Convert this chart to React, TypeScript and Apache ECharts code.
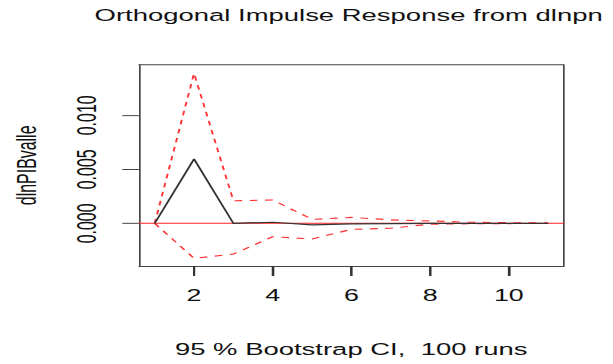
import React, { useEffect, useRef } from "react";
import * as echarts from "echarts";

const steps = [1, 2, 3, 4, 5, 6, 7, 8, 9, 10, 11];
const irf = [0, 0.00595, 0.0, 0.0001, -0.00015, -0.00005, -0.00002, 0.0, 0.0, 0.0, 0.0];
const upper = [0, 0.01389, 0.00209, 0.00216, 0.00037, 0.00055, 0.00032, 0.00022, 0.0001, 0.00006, 0.00004];
const lower = [0, -0.00324, -0.00284, -0.00124, -0.00145, -0.00056, -0.00045, -0.00008, -0.00004, -0.00002, -0.00001];
const xTicks = [2, 4, 6, 8, 10];
const yTicks = [0, 0.005, 0.01];

const titleText = "Orthogonal Impulse Response from dlnpn";
const subText = "95 % Bootstrap CI,  100 runs";
const yName = "dlnPIBvalle";

const FONT = "Liberation Sans, Arial, Helvetica, sans-serif";
const BOX = "#444";
const X_MIN = 0.6;
const X_MAX = 11.4;
const Y_MIN = -0.00395;
const Y_MAX = 0.01466;

export default function App() {
  const ref = useRef<HTMLDivElement>(null);
  useEffect(() => {
    if (!ref.current) return;
    const chart = echarts.init(ref.current, null, { renderer: "svg", width: 480, height: 480 });
    const pts = (arr: number[]) => steps.map((s, i) => [s, arr[i]]);
    const frameLine = { show: true, onZero: false, lineStyle: { color: BOX, width: 1.3 } };
    chart.setOption({
      animation: false,
      backgroundColor: "#fff",
      grid: {
        left: 108.8,
        right: 38.4,
        top: 85.7,
        bottom: 129.2,
        show: false,
      },
      xAxis: [
        {
          type: "value",
          min: X_MIN,
          max: X_MAX,
          position: "bottom",
          axisLine: frameLine,
          splitLine: { show: false },
          axisTick: {
            show: true,
            customValues: xTicks,
            length: 13,
            lineStyle: { color: "#333", width: 1.6 },
          },
          axisLabel: {
            customValues: xTicks,
            margin: 28,
            fontSize: 21,
            fontFamily: FONT,
            color: "#111",
          },
        },
        {
          type: "value",
          min: X_MIN,
          max: X_MAX,
          position: "top",
          axisLine: frameLine,
          splitLine: { show: false },
          axisTick: { show: false },
          axisLabel: { show: false },
        },
      ],
      yAxis: [
        {
          type: "value",
          min: Y_MIN,
          max: Y_MAX,
          position: "left",
          axisLine: frameLine,
          splitLine: { show: false },
          axisTick: {
            show: true,
            customValues: yTicks,
            length: 13,
            lineStyle: { color: BOX, width: 1.3 },
          },
          axisLabel: {
            customValues: yTicks,
            rotate: 90,
            margin: 30,
            fontSize: 21,
            fontFamily: FONT,
            color: "#111",
            formatter: (v: number) => v.toFixed(3),
          },
        },
        {
          type: "value",
          min: Y_MIN,
          max: Y_MAX,
          position: "right",
          axisLine: frameLine,
          splitLine: { show: false },
          axisTick: { show: false },
          axisLabel: { show: false },
        },
      ],
      series: [
        {
          type: "line",
          data: pts(upper),
          symbol: "none",
          lineStyle: { color: "#ff3333", width: 1.5, type: [6, 6] },
          z: 3,
        },
        {
          type: "line",
          data: pts(lower),
          symbol: "none",
          lineStyle: { color: "#ff3333", width: 1.5, type: [6, 6] },
          z: 3,
        },
        {
          type: "line",
          data: pts(irf),
          symbol: "none",
          lineStyle: { color: "#333", width: 1.6 },
          z: 4,
          markLine: {
            silent: true,
            symbol: "none",
            label: { show: false },
            lineStyle: { color: "#ff2020", width: 1.2, type: "solid" },
            data: [{ yAxis: 0 }],
            z: 2,
          },
        },
      ],
    });

    const tickEls = xTicks.map((v) => {
      const p = chart.convertToPixel({ gridIndex: 0 }, [v, Y_MIN]) as number[];
      return {
        type: "line",
        z: 100,
        shape: { x1: p[0], y1: p[1], x2: p[0], y2: p[1] + 13 },
        style: { stroke: "#333", lineWidth: 1.6 },
      };
    });

    chart.setOption({
      graphic: [
        {
          type: "text",
          x: 273,
          y: 21,
          style: {
            text: titleText,
            fontSize: 21.5,
            fontFamily: FONT,
            fill: "#111",
            textAlign: "center",
            textVerticalAlign: "middle",
          },
        },
        {
          type: "text",
          x: 275,
          y: 461.6,
          style: {
            text: subText,
            fontSize: 21.5,
            fontFamily: FONT,
            fill: "#111",
            textAlign: "center",
            textVerticalAlign: "middle",
          },
        },
        {
          type: "text",
          x: 21,
          y: 218,
          rotation: Math.PI / 2,
          style: {
            text: yName,
            fontSize: 21,
            fontFamily: FONT,
            fill: "#111",
            textAlign: "center",
            textVerticalAlign: "middle",
          },
        },
        ...tickEls,
      ],
    });
    return () => chart.dispose();
  }, []);
  return (
    <div style={{ position: "fixed", left: 0, top: 0, width: 613, height: 364, overflow: "hidden", background: "#fff" }}>
      <div
        ref={ref}
        style={{
          width: 480,
          height: 480,
          transform: "scale(1.2771, 0.7583)",
          transformOrigin: "0 0",
        }}
      />
    </div>
  );
}
